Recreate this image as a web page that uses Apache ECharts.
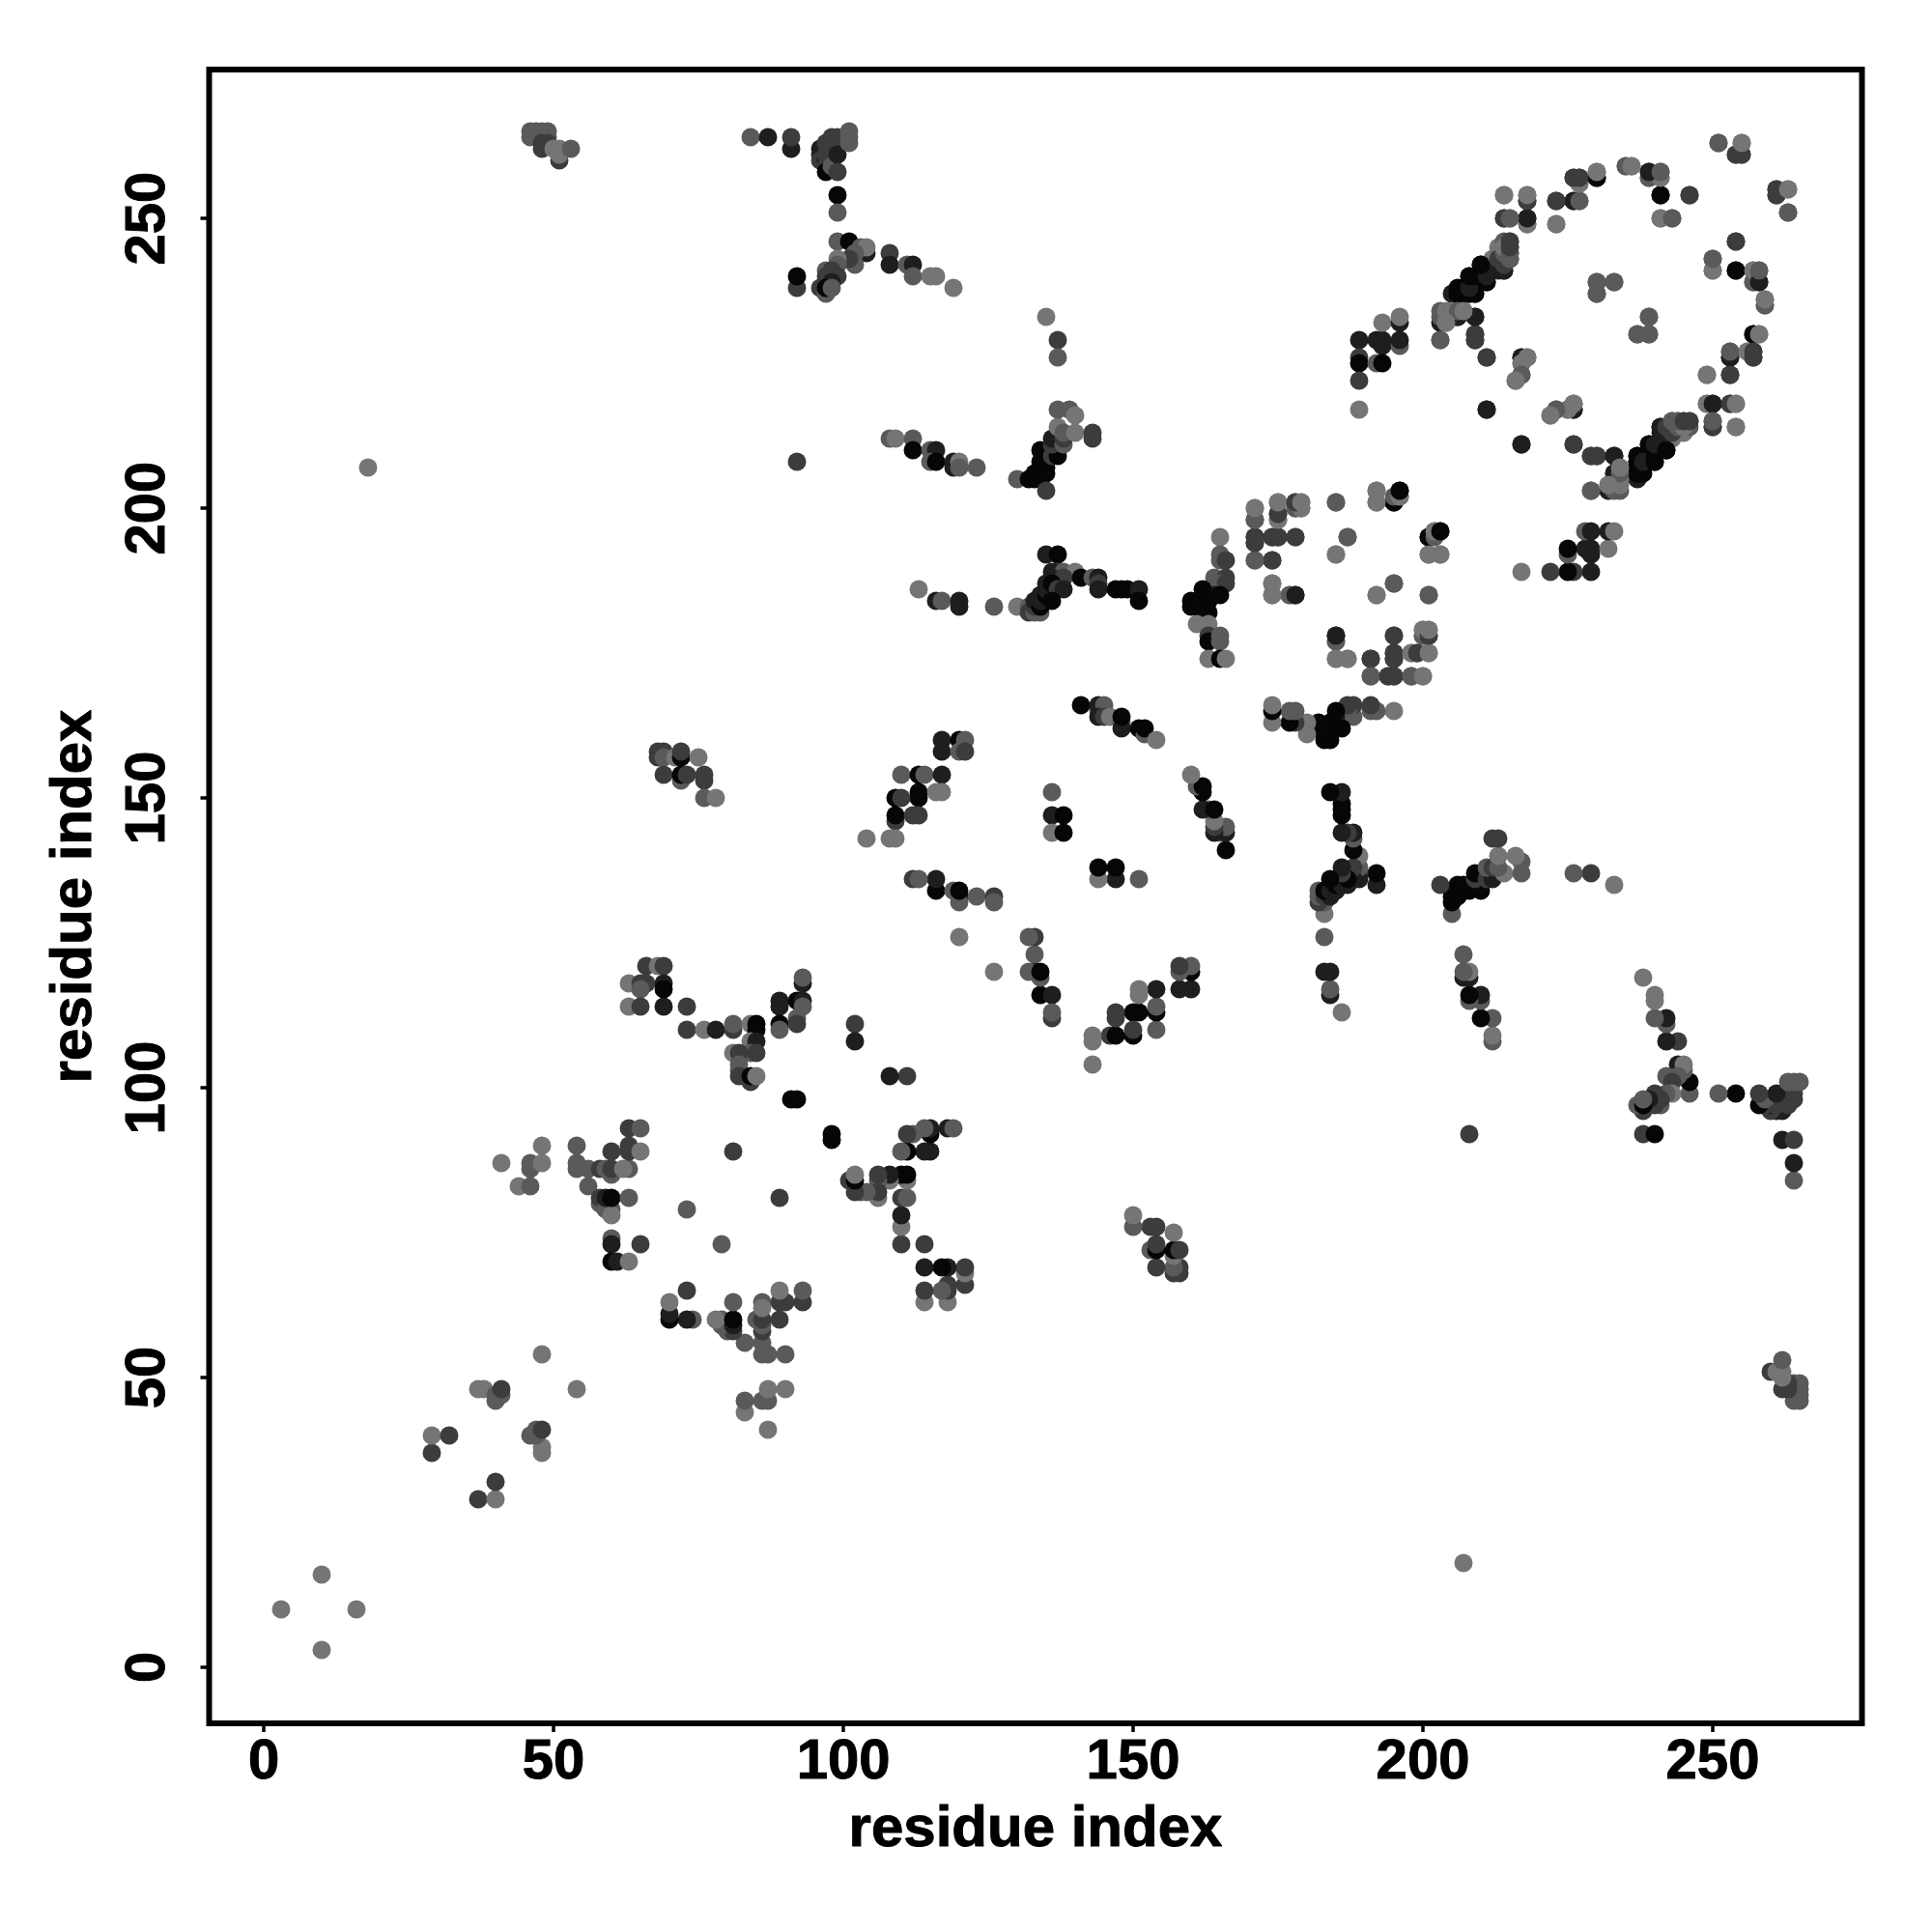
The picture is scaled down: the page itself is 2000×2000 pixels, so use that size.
<!DOCTYPE html>
<html><head><meta charset="utf-8">
<style>html,body{margin:0;padding:0;background:#fff}#c{width:2000px;height:2000px}</style>
<script src="https://cdn.jsdelivr.net/npm/echarts@6/dist/echarts.min.js"></script>
</head><body><div id="c"></div>
<script>
// each contact: [residue i, residue j, strength class 1 (weak) .. 5 (strong)]; the map is symmetric
const strand1 = [[3,10,1],[10,16,1],[29,37,3],[29,40,1],[32,40,3],[37,48,1],[38,48,1],[40,46,2],[40,47,2],[41,47,2],[41,48,3],[48,54,1]];
const strand2 = [[41,87,1],[44,83,1],[46,83,2],[46,86,2],[46,87,2],[48,87,1],[48,90,1],[54,86,2],[54,87,2],[54,90,2],[56,83,2],[56,86,2],[58,86,3],[59,86,2],[60,85,2],[60,86,3],[60,89,3],[58,80,2],[58,81,3],[59,79,2],[60,79,2],[60,78,1],[59,81,4],[60,81,5],[60,74,2],[60,73,4],[60,70,5],[61,70,4],[63,70,1],[63,81,2],[63,86,2],[65,73,3],[63,93,3],[65,93,2],[63,90,3],[63,89,3],[65,89,1],[62,86,1],[73,79,2],[81,89,3],[91,98,5],[92,98,5]];
const strand3 = [[66,121,3],[68,121,1],[69,121,3],[63,118,1],[65,118,3],[66,118,3],[65,117,2],[69,118,4],[69,117,5],[63,114,1],[65,114,3],[69,114,4],[73,114,3],[73,110,3],[76,110,1],[78,110,4],[81,110,3],[81,111,2],[84,111,1],[85,111,5],[85,110,5],[84,108,1],[85,108,4],[84,106,2],[85,106,3],[81,106,1],[82,106,3],[82,104,2],[82,103,2],[82,102,3],[84,101,3],[84,102,5],[85,102,1],[89,115,4],[89,114,4],[89,111,5],[89,110,2],[92,115,5],[93,115,4],[93,114,2],[93,118,4],[93,119,2],[92,112,2],[92,111,3],[102,111,3],[102,108,4]];
const strand4 = [[120,126,1],[120,133,5],[120,132,2],[116,134,5],[116,136,4],[112,136,3],[113,136,2],[119,134,2],[120,134,5],[123,133,2],[126,133,3],[126,132,2]];
const strand5 = [[68,158,3],[69,158,3],[68,157,3],[69,157,2],[71,157,1],[72,157,5],[72,158,3],[75,157,1],[69,154,3],[72,153,2],[72,154,5],[73,154,3],[76,153,3],[76,154,3],[76,150,2],[78,150,1],[117,160,4],[120,160,5],[121,160,2],[117,158,4],[120,158,2],[121,158,3],[110,154,2],[113,154,5],[114,154,2],[117,154,4],[113,151,5],[113,150,5],[116,151,1],[117,151,1],[109,150,5],[110,150,3],[109,146,3],[109,147,5],[112,147,3],[113,147,3],[104,143,1],[108,143,1],[109,143,1]];
const strand6 = [[113,186,1],[116,184,4],[117,184,2],[120,184,4],[120,183,4],[126,183,2],[130,183,1],[132,183,2],[132,182,3],[133,182,2],[134,182,2],[133,183,3],[133,184,4],[134,183,5],[134,184,4],[134,185,4],[135,185,5],[135,186,4],[135,187,4],[135,192,4],[137,192,5],[137,189,3],[136,189,4],[138,189,2],[140,189,1],[136,188,4],[138,188,3],[141,188,5],[136,187,5],[137,186,3],[138,186,4],[136,184,5],[143,188,2],[144,188,4],[144,187,3],[144,186,4],[147,186,5],[148,186,5],[149,186,5],[151,186,4],[151,184,5]];
const strand7 = [[141,166,5],[144,165,2],[144,166,4],[145,166,2],[144,164,4],[145,164,3],[146,164,1],[148,163,2],[148,162,4],[148,164,5],[151,162,5],[152,161,2],[152,162,5],[154,160,1],[136,151,2],[136,147,4],[138,147,5],[136,144,1],[138,144,5]];
const ring1 = [[165,195,1],[165,192,2],[165,191,2],[166,191,3],[164,188,2],[166,188,3],[165,187,2],[166,187,3],[164,185,4],[165,185,5],[162,186,5],[162,185,5],[163,184,5],[160,184,5],[160,183,5],[161,183,5],[162,183,5],[163,182,5],[161,180,1],[163,180,1],[163,178,3],[163,177,5],[165,178,2],[165,177,2],[163,174,1],[165,174,5],[166,174,1]];
const ring2 = [[171,200,1],[171,198,3],[171,195,4],[171,194,3],[171,191,2],[174,195,4],[175,195,3],[178,195,2],[174,191,4],[175,199,3],[175,198,1],[175,201,1],[178,201,3],[179,201,1],[178,200,2],[179,200,1],[174,187,1],[174,185,1],[177,185,1],[178,185,4],[185,201,2],[187,195,2],[185,192,1],[195,187,2],[192,185,1],[201,185,2],[192,203,1],[192,201,1],[195,201,5],[196,202,2],[196,203,4],[201,195,5],[202,195,2],[202,196,1],[203,196,5],[201,192,1],[203,192,1],[185,177,2],[185,178,4],[185,174,1],[187,174,1],[195,178,3],[191,174,3],[195,175,3],[195,174,3],[191,171,2],[194,171,3],[195,171,3],[198,171,2],[200,171,1],[198,175,1],[199,175,3],[201,175,1],[200,178,2],[200,179,1],[201,178,3],[201,179,1]];
const cross1 = [[18,207,1],[46,264,2],[46,265,2],[47,265,2],[48,265,2],[49,265,2],[49,264,2],[48,263,3],[48,262,3],[49,263,3],[51,260,3],[51,261,1],[50,262,1],[51,262,1],[53,262,2]];
const cross2 = [[84,264,2],[87,264,4],[91,262,4],[91,264,3],[96,262,4],[96,261,4],[96,260,3],[97,260,4],[97,259,3],[97,258,5],[97,261,3],[97,263,3],[98,262,3],[98,259,2],[98,264,3],[99,264,3],[99,261,4],[99,258,3],[101,265,2],[101,264,2],[101,263,2],[99,254,5],[99,251,2],[99,246,2],[101,246,5],[104,244,4],[103,245,2],[104,245,1],[102,244,2],[102,242,2],[101,243,3],[99,243,1],[99,242,2],[97,241,2],[98,241,3],[99,240,3],[97,240,3],[98,239,4],[96,238,3],[97,237,2],[97,238,5],[98,238,2],[92,238,3],[92,240,5],[108,244,3],[108,242,4],[111,242,2],[112,242,4],[112,240,2],[115,240,1],[116,240,1],[119,238,1]];
const cross3 = [[92,208,3],[108,212,2],[109,212,1],[112,212,2],[112,210,5],[115,210,2],[116,210,4],[115,208,2],[116,208,5],[119,208,4],[119,207,4],[120,208,1],[120,207,2],[123,207,2],[130,205,2],[132,205,5],[133,205,5],[133,206,5],[134,205,5],[134,206,5],[134,207,5],[135,206,5],[135,207,5],[134,208,5],[134,210,5],[135,203,3],[136,209,3],[137,209,5],[137,210,5],[136,211,3],[136,212,4],[138,211,2],[138,212,3],[137,214,1],[138,213,2],[140,213,1],[143,212,3],[143,213,3],[137,217,2],[139,217,2],[140,216,1],[135,233,1],[137,229,3],[137,226,2]];
const cross4 = [[189,229,4],[189,226,3],[189,225,5],[189,222,3],[189,217,1],[192,229,4],[193,229,4],[193,228,4],[193,232,1],[196,232,4],[196,233,1],[196,228,2],[196,229,4],[192,225,2],[193,225,5],[203,232,4],[203,233,2],[203,234,2],[203,229,2],[204,232,1],[204,234,1],[205,233,1],[205,234,2],[206,234,2],[206,233,4],[207,234,1],[209,233,4],[209,230,3],[209,229,3]];
const helix1 = [[205,237,4],[206,238,5],[206,237,5],[207,238,5],[207,237,5],[208,240,5],[208,238,5],[208,237,5],[209,237,5],[210,242,5],[210,240,5],[211,241,3],[211,239,4],[212,241,3],[212,243,1],[213,242,4],[213,245,1],[214,242,5],[214,241,4],[214,246,2],[215,246,2],[215,245,2],[215,244,3],[215,243,3]];
const ring3 = [[214,254,2],[218,253,3],[218,254,1],[214,250,3],[215,250,2],[218,249,1],[218,250,4],[223,253,4],[223,249,1],[226,253,3],[227,253,1],[226,257,3],[227,257,3],[227,256,1],[230,257,5],[230,258,1],[235,259,1],[236,259,1],[239,257,2],[239,258,4],[241,257,1],[241,258,2],[241,254,5],[241,250,1],[243,250,2],[246,254,3],[251,263,2],[254,261,3],[255,261,3],[255,263,1],[261,254,3],[261,255,3],[263,255,1],[263,251,2]];
const ring4 = [[254,246,3],[250,241,1],[250,243,2],[254,241,5],[257,239,2],[257,241,1],[258,239,4],[258,241,2],[259,235,2],[259,236,1],[257,230,5],[258,230,1],[253,226,4],[253,227,2],[256,227,1],[257,226,3],[257,227,3],[249,223,1],[253,223,3],[249,218,1],[250,218,4],[253,218,3],[254,218,1],[250,214,3],[250,215,2],[254,214,1]];
const helix2 = [[237,206,5],[237,208,5],[237,209,5],[238,207,5],[238,208,4],[239,211,5],[240,208,5],[240,209,5],[240,211,4],[242,210,5],[241,213,4],[242,213,4],[243,213,3],[241,214,4],[242,214,3],[244,214,2],[245,214,1],[243,215,2],[244,215,2],[245,215,3],[246,215,3]];
const ring5 = [[211,217,4],[217,211,4],[226,211,3],[229,209,3],[230,209,3],[233,209,4],[233,206,4],[234,205,1],[234,206,2],[234,207,1],[232,204,1],[229,203,2],[222,216,1],[223,217,2],[225,217,1],[226,217,4],[226,218,2],[211,226,3],[217,226,4],[218,226,1],[217,225,1],[217,223,2],[216,222,1],[230,239,2],[233,239,2],[230,237,2],[239,233,2],[237,230,2],[239,230,2]];
const allContacts = [strand1,strand2,strand3,strand4,strand5,strand6,strand7,ring1,ring2,cross1,cross2,cross3,cross4,helix1,ring3,ring4,helix2,ring5].flat();
const tickValues = [0,50,100,150,200,250];
const axisTitle = 'residue index';
const grays = {1:'#757575',2:'#5a5a5a',3:'#3c3c3c',4:'#1e1e1e',5:'#060606'};

const points = allContacts.flatMap(([i,j,s]) => [[i,j,s],[j,i,s]]);
const labelFont = {fontFamily:'"Liberation Sans"',fontWeight:'bold',fontSize:58,color:'#000',textBorderColor:'#000',textBorderWidth:1};
const titleFont = {...labelFont,fontSize:60};
const axisBase = {
  type:'value',
  splitLine:{show:false},
  axisLine:{show:false,onZero:false},
  axisTick:{show:true,length:9,lineStyle:{color:'#000',width:3.5},customValues:tickValues},
  name:axisTitle,nameLocation:'middle',nameTextStyle:titleFont
};
const chart = echarts.init(document.getElementById('c'),null,{renderer:'canvas'});
chart.setOption({
  animation:false,
  backgroundColor:'#fff',
  grid:{left:216.5,top:72,width:1711,height:1712,show:true,backgroundColor:'transparent',borderColor:'#000',borderWidth:6,containLabel:false,z:5},
  xAxis:{...axisBase,min:-9.42,max:275.75,nameGap:80,
    axisLabel:{...labelFont,margin:12,customValues:tickValues,hideOverlap:false,showMinLabel:true,showMaxLabel:true}},
  yAxis:{...axisBase,min:-9.67,max:275.67,nameGap:109,nameRotate:90,
    axisLabel:{...labelFont,margin:34,rotate:90,customValues:tickValues,showMinLabel:true,showMaxLabel:true}},
  series:[{
    type:'scatter',
    data:points,
    symbol:'circle',
    symbolSize:19,
    encode:{x:0,y:1},
    itemStyle:{color:p=>grays[p.value[2]],opacity:1},
    clip:false
  }]
});
</script></body></html>
